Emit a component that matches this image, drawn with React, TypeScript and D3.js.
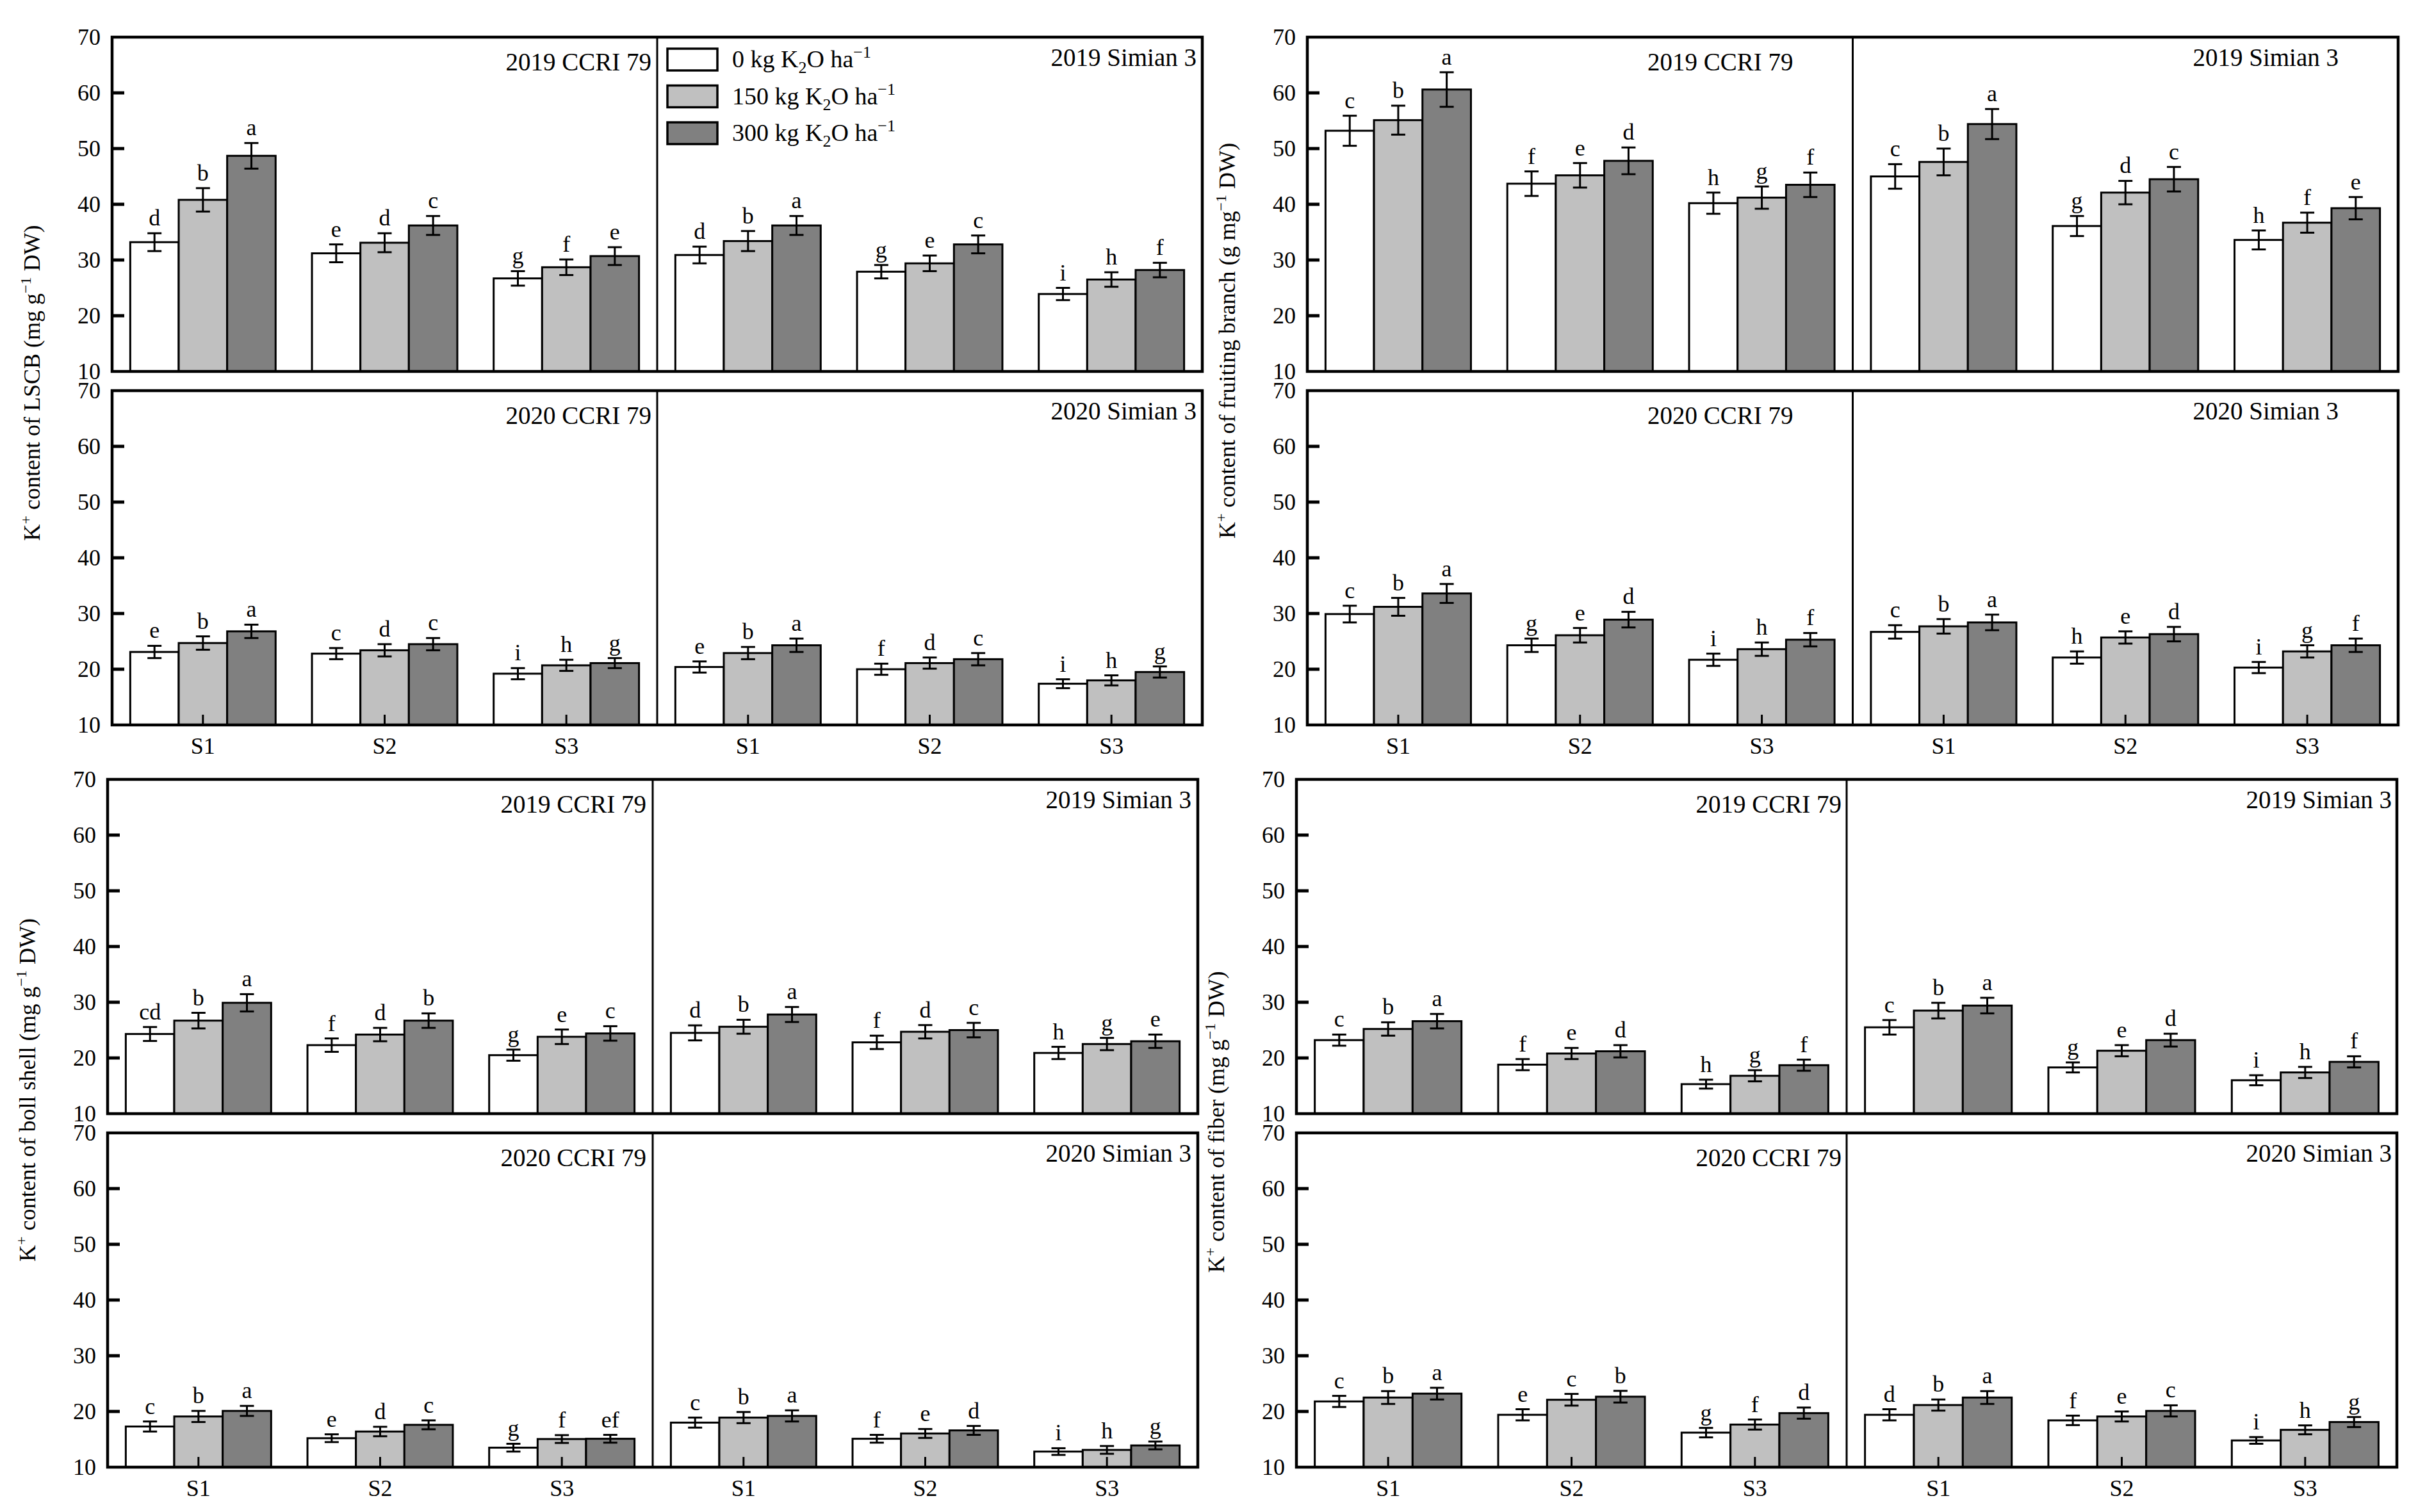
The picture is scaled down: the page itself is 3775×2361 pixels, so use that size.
import * as d3 from 'd3';

const sites = ['S1', 'S2', 'S3'];
const rates = ['0', '150', '300'];
const yTickValues = [10, 20, 30, 40, 50, 60, 70];
const years = ['2019', '2020'];
const cultivars = ['CCRI 79', 'Simian 3'];
const rateFills = ['#ffffff', '#c0c0c0', '#808080'];

// K+ content of LSCB
const lscb2019Ccri = [[33.2, 40.8, 48.7], [31.2, 33.1, 36.2], [26.7, 28.7, 30.7]];
const lscb2019CcriErr = [[1.6, 2.1, 2.3], [1.6, 1.7, 1.7], [1.3, 1.4, 1.6]];
const lscb2019CcriSig = [['d', 'b', 'a'], ['e', 'd', 'c'], ['g', 'f', 'e']];
const lscb2019Simian = [[30.9, 33.4, 36.2], [27.9, 29.4, 32.8], [23.9, 26.5, 28.2]];
const lscb2019SimianErr = [[1.5, 1.8, 1.7], [1.2, 1.4, 1.6], [1.1, 1.3, 1.3]];
const lscb2019SimianSig = [['d', 'b', 'a'], ['g', 'e', 'c'], ['i', 'h', 'f']];
const lscb2020Ccri = [[23.1, 24.7, 26.8], [22.8, 23.4, 24.5], [19.2, 20.7, 21.1]];
const lscb2020CcriErr = [[1.1, 1.2, 1.2], [1.0, 1.1, 1.1], [1.0, 1.0, 0.9]];
const lscb2020CcriSig = [['e', 'b', 'a'], ['c', 'd', 'c'], ['i', 'h', 'g']];
const lscb2020Simian = [[20.4, 22.9, 24.3], [20.0, 21.1, 21.8], [17.4, 18.0, 19.5]];
const lscb2020SimianErr = [[1.0, 1.1, 1.2], [1.0, 1.0, 1.1], [0.8, 0.9, 1.0]];
const lscb2020SimianSig = [['e', 'b', 'a'], ['f', 'd', 'c'], ['i', 'h', 'g']];

// K+ content of fruiting branch
const fruit2019Ccri = [[53.2, 55.1, 60.6], [43.7, 45.2, 47.8], [40.2, 41.2, 43.5]];
const fruit2019CcriErr = [[2.7, 2.6, 3.1], [2.2, 2.2, 2.4], [1.9, 2.0, 2.2]];
const fruit2019CcriSig = [['c', 'b', 'a'], ['f', 'e', 'd'], ['h', 'g', 'f']];
const fruit2019Simian = [[45.0, 47.6, 54.4], [36.1, 42.1, 44.5], [33.6, 36.7, 39.3]];
const fruit2019SimianErr = [[2.2, 2.4, 2.7], [1.8, 2.1, 2.2], [1.7, 1.8, 2.0]];
const fruit2019SimianSig = [['c', 'b', 'a'], ['g', 'd', 'c'], ['h', 'f', 'e']];
const fruit2020Ccri = [[29.9, 31.2, 33.6], [24.3, 26.1, 28.9], [21.7, 23.6, 25.3]];
const fruit2020CcriErr = [[1.5, 1.6, 1.7], [1.2, 1.3, 1.4], [1.1, 1.2, 1.2]];
const fruit2020CcriSig = [['c', 'b', 'a'], ['g', 'e', 'd'], ['i', 'h', 'f']];
const fruit2020Simian = [[26.7, 27.7, 28.4], [22.1, 25.7, 26.3], [20.3, 23.2, 24.3]];
const fruit2020SimianErr = [[1.2, 1.3, 1.4], [1.1, 1.1, 1.3], [1.0, 1.1, 1.2]];
const fruit2020SimianSig = [['c', 'b', 'a'], ['h', 'e', 'd'], ['i', 'g', 'f']];

// K+ content of boll shell
const boll2019Ccri = [[24.3, 26.7, 29.9], [22.3, 24.2, 26.7], [20.5, 23.8, 24.4]];
const boll2019CcriErr = [[1.25, 1.4, 1.55], [1.2, 1.2, 1.3], [1.0, 1.3, 1.3]];
const boll2019CcriSig = [['cd', 'b', 'a'], ['f', 'd', 'b'], ['g', 'e', 'c']];
const boll2019Simian = [[24.5, 25.6, 27.8], [22.8, 24.7, 25.0], [20.9, 22.5, 23.0]];
const boll2019SimianErr = [[1.35, 1.25, 1.35], [1.2, 1.2, 1.3], [1.1, 1.1, 1.2]];
const boll2019SimianSig = [['d', 'b', 'a'], ['f', 'd', 'c'], ['h', 'g', 'e']];
const boll2020Ccri = [[17.3, 19.1, 20.1], [15.2, 16.4, 17.6], [13.5, 15.05, 15.1]];
const boll2020CcriErr = [[0.9, 1.0, 0.9], [0.7, 0.85, 0.8], [0.7, 0.7, 0.7]];
const boll2020CcriSig = [['c', 'b', 'a'], ['e', 'd', 'c'], ['g', 'f', 'ef']];
const boll2020Simian = [[18.0, 18.9, 19.2], [15.1, 16.05, 16.6], [12.8, 13.1, 13.9]];
const boll2020SimianErr = [[0.9, 1.0, 1.0], [0.7, 0.8, 0.8], [0.6, 0.7, 0.7]];
const boll2020SimianSig = [['c', 'b', 'a'], ['f', 'e', 'd'], ['i', 'h', 'g']];

// K+ content of fiber
const fiber2019Ccri = [[23.2, 25.2, 26.6], [18.8, 20.8, 21.2], [15.3, 16.8, 18.7]];
const fiber2019CcriErr = [[1.0, 1.2, 1.3], [1.0, 1.0, 1.1], [0.8, 1.0, 1.0]];
const fiber2019CcriSig = [['c', 'b', 'a'], ['f', 'e', 'd'], ['h', 'g', 'f']];
const fiber2019Simian = [[25.5, 28.5, 29.4], [18.3, 21.3, 23.2], [16.0, 17.4, 19.3]];
const fiber2019SimianErr = [[1.3, 1.4, 1.4], [0.9, 1.0, 1.15], [0.9, 1.0, 1.0]];
const fiber2019SimianSig = [['c', 'b', 'a'], ['g', 'e', 'd'], ['i', 'h', 'f']];
const fiber2020Ccri = [[21.8, 22.5, 23.2], [19.4, 22.1, 22.65], [16.2, 17.65, 19.7]];
const fiber2020CcriErr = [[1.0, 1.15, 1.05], [1.0, 1.05, 1.05], [0.85, 0.9, 1.0]];
const fiber2020CcriSig = [['c', 'b', 'a'], ['e', 'c', 'b'], ['g', 'f', 'd']];
const fiber2020Simian = [[19.4, 21.15, 22.5], [18.4, 19.1, 20.1], [14.8, 16.7, 18.1]];
const fiber2020SimianErr = [[1.0, 1.0, 1.15], [0.85, 0.9, 1.0], [0.6, 0.8, 0.9]];
const fiber2020SimianSig = [['d', 'b', 'a'], ['f', 'e', 'c'], ['i', 'h', 'g']];

const FONT = "'Liberation Serif', 'Times New Roman', serif";

interface PanelData {
  means: number[][];
  errs: number[][];
  sig: string[][];
}

interface Quadrant {
  x0: number;
  x1: number;
  top: number;
  organ: string;
  unit: string;
  labelCenter: number;
  titleInset: number;
  legend: boolean;
  panels: PanelData[][]; // [year][cultivar]
}

const ROW_H = 522;
const ROW_GAP = 30;

const quadrants: Quadrant[] = [
  {
    x0: 175, x1: 1877, top: 58, organ: 'LSCB', unit: 'mg g', labelCenter: 598, titleInset: 9, legend: true,
    panels: [
      [
        { means: lscb2019Ccri, errs: lscb2019CcriErr, sig: lscb2019CcriSig },
        { means: lscb2019Simian, errs: lscb2019SimianErr, sig: lscb2019SimianSig },
      ],
      [
        { means: lscb2020Ccri, errs: lscb2020CcriErr, sig: lscb2020CcriSig },
        { means: lscb2020Simian, errs: lscb2020SimianErr, sig: lscb2020SimianSig },
      ],
    ],
  },
  {
    x0: 2041, x1: 3744, top: 58, organ: 'fruiting branch', unit: 'g mg', labelCenter: 532, titleInset: 93, legend: false,
    panels: [
      [
        { means: fruit2019Ccri, errs: fruit2019CcriErr, sig: fruit2019CcriSig },
        { means: fruit2019Simian, errs: fruit2019SimianErr, sig: fruit2019SimianSig },
      ],
      [
        { means: fruit2020Ccri, errs: fruit2020CcriErr, sig: fruit2020CcriSig },
        { means: fruit2020Simian, errs: fruit2020SimianErr, sig: fruit2020SimianSig },
      ],
    ],
  },
  {
    x0: 168, x1: 1870, top: 1217, organ: 'boll shell', unit: 'mg g', labelCenter: 1702, titleInset: 10, legend: false,
    panels: [
      [
        { means: boll2019Ccri, errs: boll2019CcriErr, sig: boll2019CcriSig },
        { means: boll2019Simian, errs: boll2019SimianErr, sig: boll2019SimianSig },
      ],
      [
        { means: boll2020Ccri, errs: boll2020CcriErr, sig: boll2020CcriSig },
        { means: boll2020Simian, errs: boll2020SimianErr, sig: boll2020SimianSig },
      ],
    ],
  },
  {
    x0: 2024, x1: 3742, top: 1217, organ: 'fiber', unit: 'mg g', labelCenter: 1752, titleInset: 8, legend: false,
    panels: [
      [
        { means: fiber2019Ccri, errs: fiber2019CcriErr, sig: fiber2019CcriSig },
        { means: fiber2019Simian, errs: fiber2019SimianErr, sig: fiber2019SimianSig },
      ],
      [
        { means: fiber2020Ccri, errs: fiber2020CcriErr, sig: fiber2020CcriSig },
        { means: fiber2020Simian, errs: fiber2020SimianErr, sig: fiber2020SimianSig },
      ],
    ],
  },
];

function SubPanel({
  x0, width, top, data, title, titleInset, bottomRow,
}: {
  x0: number; width: number; top: number; data: PanelData; title: string; titleInset: number; bottomRow: boolean;
}) {
  const x = d3.scaleBand<string>().domain(sites).range([x0, x0 + width]).paddingInner(0.2).paddingOuter(0.1);
  const xr = d3.scaleBand<string>().domain(rates).range([0, x.bandwidth()]);
  const y = d3.scaleLinear().domain([10, 70]).range([top + ROW_H, top]);
  const isCcri = title.includes('CCRI');

  return (
    <g>
      {sites.map((s, si) =>
        rates.map((r, ri) => {
          const v = data.means[si][ri];
          const e = data.errs[si][ri];
          const bx = (x(s) ?? 0) + (xr(r) ?? 0);
          const cx = bx + xr.bandwidth() / 2;
          return (
            <g key={`${s}-${r}`}>
              <rect x={bx} y={y(v)} width={xr.bandwidth()} height={y(10) - y(v)}
                fill={rateFills[ri]} stroke="#000" strokeWidth={3} />
              <line x1={cx} x2={cx} y1={y(v - e)} y2={y(v + e)} stroke="#000" strokeWidth={3} />
              <line x1={cx - 11} x2={cx + 11} y1={y(v + e)} y2={y(v + e)} stroke="#000" strokeWidth={3} />
              <line x1={cx - 11} x2={cx + 11} y1={y(v - e)} y2={y(v - e)} stroke="#000" strokeWidth={3} />
              <text x={cx} y={y(v + e) - 12} textAnchor="middle" fontSize={36}>{data.sig[si][ri]}</text>
            </g>
          );
        }),
      )}
      {bottomRow &&
        sites.map((s) => {
          const cx = (x(s) ?? 0) + x.bandwidth() / 2;
          return <line key={s} x1={cx} x2={cx} y1={y(10)} y2={y(10) - 16} stroke="#000" strokeWidth={3} />;
        })}
      <text x={x0 + width - titleInset} y={top + (isCcri ? 52 : 45)} textAnchor="end" fontSize={39}>{title}</text>
    </g>
  );
}

function Legend({ x, y }: { x: number; y: number }) {
  return (
    <g>
      {rates.map((r, i) => (
        <g key={r} transform={`translate(${x},${y + i * 57.5})`}>
          <rect x={0} y={0} width={78} height={34} fill={rateFills[i]} stroke="#000" strokeWidth={3.5} />
          <text x={101} y={29} fontSize={38}>
            {`${r} kg K`}
            <tspan fontSize={26} dy={9}>2</tspan>
            <tspan dy={-9}>O ha</tspan>
            <tspan fontSize={26} dy={-15}>−1</tspan>
          </text>
        </g>
      ))}
    </g>
  );
}

function QuadrantView({ q }: { q: Quadrant }) {
  const mid = (q.x0 + q.x1) / 2;
  const halfW = mid - q.x0;
  const rowTops = [q.top, q.top + ROW_H + ROW_GAP];
  const labelX = q.x0 - 113;
  return (
    <g>
      {rowTops.map((top, yi) => {
        const y = d3.scaleLinear().domain([10, 70]).range([top + ROW_H, top]);
        return (
          <g key={yi}>
            {cultivars.map((c, ci) => (
              <SubPanel key={c} x0={ci === 0 ? q.x0 : mid} width={halfW} top={top}
                data={q.panels[yi][ci]} title={`${years[yi]} ${c}`}
                titleInset={ci === 0 ? q.titleInset : Math.max(8, q.titleInset)} bottomRow={yi === 1} />
            ))}
            {yTickValues.slice(1, -1).map((t) => (
              <line key={t} x1={q.x0} x2={q.x0 + 19} y1={y(t)} y2={y(t)} stroke="#000" strokeWidth={5} />
            ))}
            {yTickValues.map((t) => (
              <text key={t} x={q.x0 - 18} y={y(t)} dy="0.34em" textAnchor="end" fontSize={36}>{t}</text>
            ))}
            <line x1={mid} x2={mid} y1={top} y2={top + ROW_H} stroke="#000" strokeWidth={3} />
            <rect x={q.x0} y={top} width={q.x1 - q.x0} height={ROW_H} fill="none" stroke="#000" strokeWidth={4.5} />
          </g>
        );
      })}
      {[q.x0, mid].map((px, pi) => {
        const x = d3.scaleBand<string>().domain(sites).range([px, px + halfW]).paddingInner(0.2).paddingOuter(0.1);
        return sites.map((s) => (
          <text key={`${pi}-${s}`} x={(x(s) ?? 0) + x.bandwidth() / 2} y={rowTops[1] + ROW_H + 45}
            textAnchor="middle" fontSize={36}>{s}</text>
        ));
      })}
      {q.legend && <Legend x={mid + 16} y={q.top + 18} />}
      <text transform={`translate(${labelX},${q.labelCenter}) rotate(-90)`} textAnchor="middle" fontSize={36}>
        K<tspan fontSize={24} dy={-14}>+</tspan>
        <tspan dy={14}>{` content of ${q.organ} (${q.unit}`}</tspan>
        <tspan fontSize={24} dy={-14}>−1</tspan>
        <tspan dy={14}> DW)</tspan>
      </text>
    </g>
  );
}

export default function App() {
  return (
    <svg width={3775} height={2361} viewBox="0 0 3775 2361"
      style={{ position: 'absolute', left: 0, top: 0, background: '#fff' }}
      fontFamily={FONT}>
      <rect x={0} y={0} width={3775} height={2361} fill="#fff" />
      {quadrants.map((q, i) => (
        <QuadrantView key={i} q={q} />
      ))}
    </svg>
  );
}
